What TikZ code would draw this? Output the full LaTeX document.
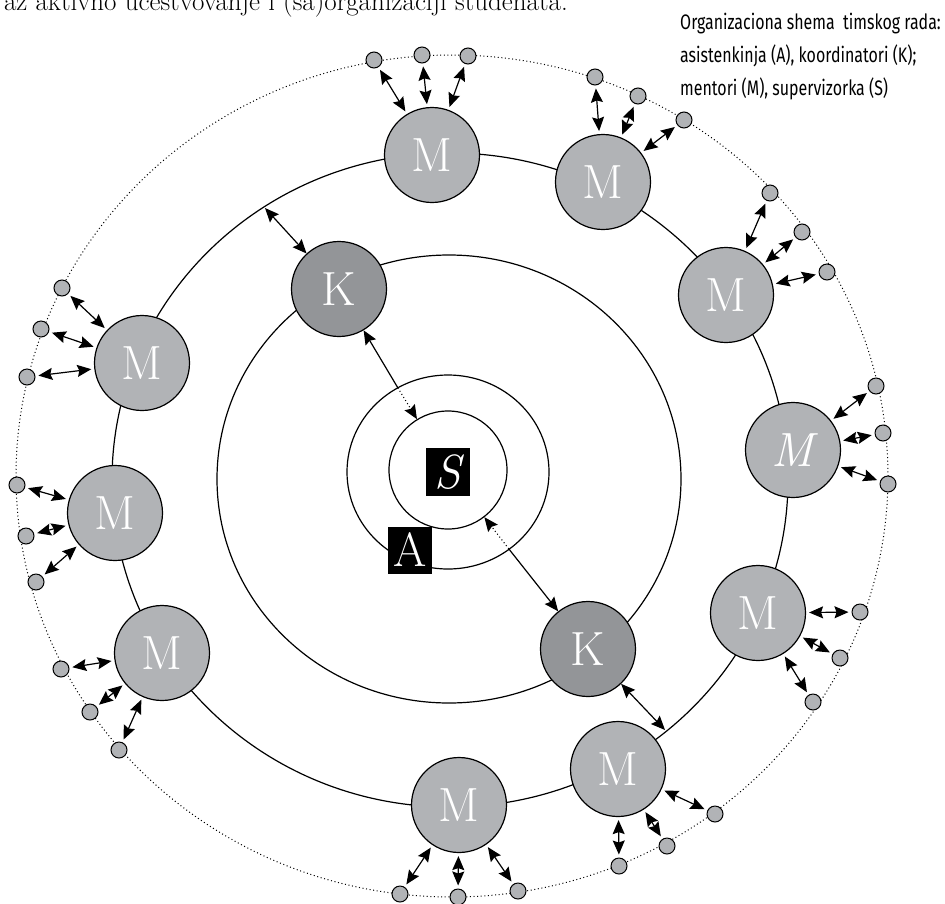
\documentclass[tikz,border=0pt]{standalone}
\usepackage{fontspec}
\usetikzlibrary{arrows.meta,shapes.geometric,calc}
\newfontfamily\capfont[FakeStretch=0.76]{Fira Sans}
\definecolor{mgray}{RGB}{177,179,182}
\definecolor{kgray}{RGB}{147,149,152}
\tikzstyle{ring} = [draw, line width=1.2pt]
\tikzstyle{dotring} = [line width=1pt, dash pattern=on 1pt off 2.6pt]
\tikzstyle{mentor} = [circle, draw, line width=1.2pt, fill=mgray, minimum size=95pt, inner sep=0pt, text=white, font=\fontsize{48}{48}\selectfont]
\tikzstyle{koord} = [mentor, fill=kgray]
\tikzstyle{lbox} = [fill=black, text=white, minimum width=44pt, minimum height=48pt, inner sep=0pt, font=\fontsize{48}{48}\selectfont]
\tikzstyle{member} = [circle, draw, line width=1pt, fill=mgray, minimum size=16pt, inner sep=0pt]
\tikzstyle{twoway} = [<->, line width=1.2pt]
\tikzstyle{reach} = [twoway, shorten <=3pt, shorten >=3pt]

\begin{document}
\begin{tikzpicture}[x=1pt, y=-1pt, >={Stealth[length=14pt,width=12pt,inset=2pt]}]
\useasboundingbox (0,0) rectangle (945,903);

\node[anchor=base east, inner sep=0pt, font=\fontsize{27}{27}\selectfont] (title) at (568,10)
    {az aktivno učestvovanje i (sa)organizaciji studenata.};
\node[anchor=north west, align=left, inner sep=0pt, font=\capfont\fontsize{21}{33}\selectfont] (caption) at (680,13)
    {Organizaciona shema~ timskog rada:\\asistenkinja (A), koordinatori (K);\\mentori (M), supervizorka (S)};

\draw[dotring] (452,476) ellipse [x radius=436pt, y radius=421pt];
\draw[ring] (450,480) ellipse [x radius=338pt, y radius=327pt];
\draw[ring] (449,479) ellipse [x radius=232pt, y radius=224pt];
\node[ring, ellipse, minimum width=202pt, minimum height=194pt, inner sep=0pt] (aring) at (448,472) {};
\node[ring, circle, minimum size=118pt, inner sep=0pt] (sring) at (448,470) {};

\node[lbox] (s) at (448,472) {\itshape S};
\node[lbox, minimum height=47pt] (a) at (410,550) {A};

\node[koord] (k1) at (339,289) {K};
\node[koord] (k2) at (588,649) {K};

\foreach \n/\x/\y/\t in {1/432/155/M, 2/603/182/M, 3/726/295/M, 4/793/450/{\itshape M},
    5/758/613/M, 6/618/769/M, 7/459/805/M, 8/162/653/M, 9/115/513/M, 10/142/363/M}
    \node[mentor] (m\n) at (\x,\y) {\t};

\foreach \n/\ax/\ay/\bx/\by/\cx/\cy in {1/374/60/422/55/468/56, 2/595/77/638/96/684/120,
    3/770/193/802/232/827/272, 4/876/386/883/433/888/484, 5/860/612/840/658/813/702,
    6/715/814/667/846/619/866, 7/400/894/458/897/518/891, 8/61/669/90/712/119/750,
    9/17/485/26/536/36/582, 10/62/288/41/329/27/377}
{
    \node[member] (m\n-a) at (\ax,\ay) {};
    \node[member] (m\n-b) at (\bx,\by) {};
    \node[member] (m\n-c) at (\cx,\cy) {};
    \draw[reach] (m\n) -- (m\n-a);
    \draw[reach] (m\n) -- (m\n-b);
    \draw[reach] (m\n) -- (m\n-c);
}

\coordinate (r1) at (265,208);
\coordinate (r2) at (665,730);
\draw[twoway] (k1) -- (r1);
\draw[twoway] (k2) -- (r2);

\coordinate (p1) at ($(aring.center)!98pt!(k1)$);
\coordinate (p2) at ($(aring.center)!98pt!(k2)$);
\draw[line width=1.2pt, <-] (k1) -- (p1);
\draw[line width=1.2pt, <-] (k2) -- (p2);
\draw[dotring, line width=1.1pt, ->] (p1) -- (sring);
\draw[dotring, line width=1.1pt, ->] (p2) -- (sring);
\end{tikzpicture}
\end{document}
